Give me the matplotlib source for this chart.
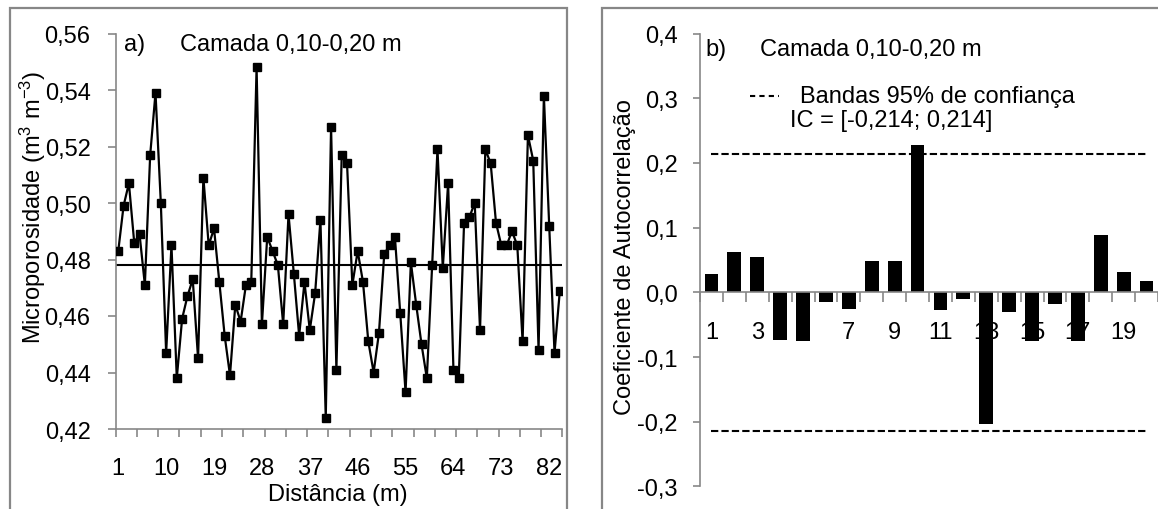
import matplotlib
matplotlib.use('Agg')
import matplotlib.pyplot as plt
import numpy as np
from matplotlib.patches import Rectangle
from matplotlib.lines import Line2D

plt.rcParams['font.family'] = ['Liberation Sans', 'DejaVu Sans']
plt.rcParams['mathtext.fontset'] = 'custom'
plt.rcParams['mathtext.rm'] = 'Liberation Sans'
plt.rcParams['mathtext.it'] = 'Liberation Sans:italic'

W, H = 1158, 510
FS = 17
GRAY = '#878787'

# --- painel a) microporosidade ao longo do transecto ---
distancia = np.arange(1, 85)
micro = [0.483, 0.499, 0.507, 0.486, 0.489, 0.471, 0.517, 0.539, 0.500, 0.447,
         0.485, 0.438, 0.459, 0.467, 0.473, 0.445, 0.509, 0.485, 0.491, 0.472,
         0.453, 0.439, 0.464, 0.458, 0.471, 0.472, 0.548, 0.457, 0.488, 0.483,
         0.478, 0.457, 0.496, 0.475, 0.453, 0.472, 0.455, 0.468, 0.494, 0.424,
         0.527, 0.441, 0.517, 0.514, 0.471, 0.483, 0.472, 0.451, 0.440, 0.454,
         0.482, 0.485, 0.488, 0.461, 0.433, 0.479, 0.464, 0.450, 0.438, 0.478,
         0.519, 0.477, 0.507, 0.441, 0.438, 0.493, 0.495, 0.500, 0.455, 0.519,
         0.514, 0.493, 0.485, 0.485, 0.490, 0.485, 0.451, 0.524, 0.515, 0.448,
         0.538, 0.492, 0.447, 0.469]
media = 0.478
dist_labels = [1, 10, 19, 28, 37, 46, 55, 64, 73, 82]
micro_ticks = [0.42, 0.44, 0.46, 0.48, 0.50, 0.52, 0.54, 0.56]

# --- painel b) autocorrelograma ---
lags = np.arange(1, 21)
acf = [0.028, 0.063, 0.055, -0.073, -0.075, -0.015, -0.026, 0.048, 0.048, 0.228,
       -0.027, -0.010, -0.203, -0.031, -0.076, -0.018, -0.076, 0.089, 0.031, 0.017]
ic = 0.214
lag_labels = [1, 3, 5, 7, 9, 11, 13, 15, 17, 19]
acf_ticks = [-0.3, -0.2, -0.1, 0.0, 0.1, 0.2, 0.3, 0.4]


def fx(x):
    return x / W


def fy(y):
    return 1 - y / H


def virgula(v, nd):
    return f'{v:.{nd}f}'.replace('.', ',')


fig = plt.figure(figsize=(W / 100, H / 100), dpi=100)

# molduras (area do grafico do Excel)
fig.add_artist(Rectangle((fx(10), fy(560)), fx(567) - fx(10), fy(9) - fy(560),
                         transform=fig.transFigure, fill=False, ec=GRAY, lw=1.6))
fig.add_artist(Rectangle((fx(602), fy(560)), fx(1250) - fx(602), fy(9) - fy(560),
                         transform=fig.transFigure, fill=False, ec=GRAY, lw=1.6))

# ---------------- a) ----------------
ax1 = fig.add_axes([fx(115.6), fy(430), fx(562.5) - fx(115.6), fy(34.5) - fy(430)])
ax1.plot(distancia, micro, color='black', lw=1.6, marker='s', ms=6, zorder=3)
ax1.axhline(media, color='black', lw=1.5, zorder=2)
ax1.set_xlim(0.5, 84.5)
ax1.set_ylim(0.42, 0.56)
ax1.set_yticks(micro_ticks)
ax1.set_yticklabels([virgula(v, 2) for v in micro_ticks])
ax1.set_xticks(dist_labels)
ax1.set_xticklabels([str(d) for d in dist_labels])
ax1.set_xticks(np.arange(0.5, 85, 4), minor=True)
ax1.tick_params(axis='x', which='major', length=0, pad=20, labelsize=FS)
ax1.tick_params(axis='x', which='minor', length=6, width=1.2, color=GRAY, direction='out')
ax1.tick_params(axis='y', length=6, width=1.2, color=GRAY, pad=12, labelsize=FS)
for s in ['top', 'right']:
    ax1.spines[s].set_visible(False)
for s in ['left', 'bottom']:
    ax1.spines[s].set_color(GRAY)
    ax1.spines[s].set_linewidth(1.2)

fig.text(fx(33), fy(207), 'Microporosidade (m$^{3}$ m$^{-3}$)', rotation=90,
         ha='center', va='center', fontsize=FS)
fig.text(fx(338), fy(495), 'Distância (m)', ha='center', va='center', fontsize=FS)
fig.text(fx(124), fy(45), 'a)', ha='left', va='center', fontsize=FS)
fig.text(fx(180), fy(45), 'Camada 0,10-0,20 m', ha='left', va='center', fontsize=FS)

# ---------------- b) ----------------
ax2 = fig.add_axes([fx(700), fy(487.4), fx(1158) - fx(700), fy(34.5) - fy(487.4)])
ax2.set_axisbelow(True)
ax2.bar(lags, acf, width=0.6, color='black', zorder=2)
ax2.plot(lags, [ic] * len(lags), color='black', lw=1.5, ls=(0, (3.5, 1.5)), zorder=3)
ax2.plot(lags, [-ic] * len(lags), color='black', lw=1.5, ls=(0, (3.5, 1.5)), zorder=3)
ax2.set_xlim(0.5, 20.5)
ax2.set_ylim(-0.3, 0.4)
ax2.set_yticks(acf_ticks)
ax2.set_yticklabels([virgula(v, 1) for v in acf_ticks])
ax2.set_xticks(lag_labels)
ax2.set_xticklabels([str(l) for l in lag_labels])
ax2.set_xticks(np.arange(0.5, 21, 1), minor=True)
ax2.tick_params(axis='x', which='major', length=0, pad=21, labelsize=FS)
ax2.tick_params(axis='x', which='minor', length=7, width=1.2, color=GRAY, direction='out')
ax2.tick_params(axis='y', length=5, width=1.2, color=GRAY, pad=11, labelsize=FS)
ax2.spines['bottom'].set_position(('data', 0))
for s in ['top', 'right']:
    ax2.spines[s].set_visible(False)
for s in ['left', 'bottom']:
    ax2.spines[s].set_color(GRAY)
    ax2.spines[s].set_linewidth(1.2)

fig.text(fx(625), fy(257), 'Coeficiente de Autocorrelação', rotation=90,
         ha='center', va='center', fontsize=FS)
fig.text(fx(705), fy(50), 'b)', ha='left', va='center', fontsize=FS)
fig.text(fx(760), fy(50), 'Camada 0,10-0,20 m', ha='left', va='center', fontsize=FS)
fig.add_artist(Line2D([fx(750), fx(779)], [fy(97), fy(97)], transform=fig.transFigure,
                      color='black', lw=1.5, ls=(0, (2.5, 2))))
fig.text(fx(800), fy(97), 'Bandas 95% de confiança', ha='left', va='center', fontsize=FS)
fig.text(fx(790), fy(121), 'IC = [-0,214; 0,214]', ha='left', va='center', fontsize=FS)

fig.savefig('out.png', dpi=100)
